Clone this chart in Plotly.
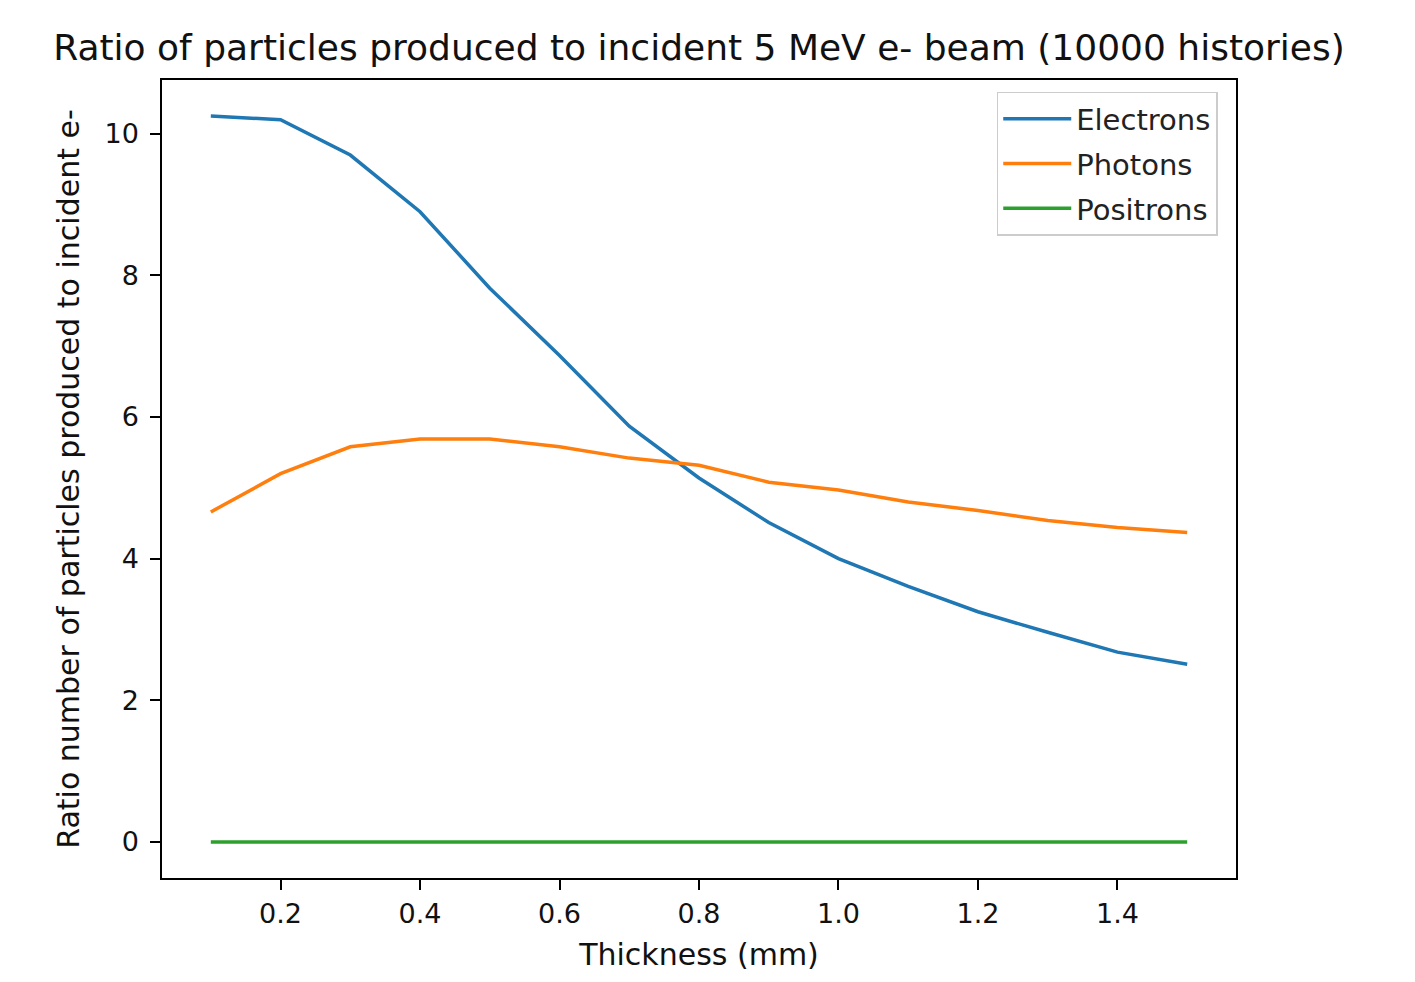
import plotly.graph_objects as go

# Target thickness (mm)
thickness = [0.1, 0.2, 0.3, 0.4, 0.5, 0.6, 0.7, 0.8, 0.9, 1.0, 1.1, 1.2, 1.3, 1.4, 1.5]

# Particles produced per incident electron
electrons = [10.25, 10.20, 9.70, 8.90, 7.82, 6.87, 5.87, 5.14, 4.51, 4.00, 3.61, 3.25, 2.96, 2.68, 2.51]
photons = [4.66, 5.20, 5.58, 5.69, 5.69, 5.58, 5.42, 5.32, 5.08, 4.97, 4.80, 4.68, 4.54, 4.44, 4.37]
positrons = [0.0] * 15

series = [
    ("Electrons", electrons, "#1f77b4"),
    ("Photons", photons, "#ff7f0e"),
    ("Positrons", positrons, "#2ca02c"),
]

FONT = "DejaVu Sans"

fig = go.Figure()
for name, vals, color in series:
    fig.add_trace(go.Scatter(
        x=thickness, y=vals, name=name, mode="lines", legendgroup=name,
        line=dict(color=color, width=3.5),
    ))

axis_common = dict(
    showgrid=False, zeroline=False,
    showline=True, linecolor="black", linewidth=1.5, mirror=True,
    ticks="outside", ticklen=10, tickwidth=1.5, tickcolor="black",
    tickfont=dict(family=FONT, size=27, color="#111111"),
)

fig.update_layout(
    width=1415, height=982,
    margin=dict(l=162, r=179, t=80, b=104),
    paper_bgcolor="white", plot_bgcolor="white",
    font=dict(family=FONT, color="#111111"),
    title=dict(
        text="Ratio of particles produced to incident 5 MeV e- beam (10000 histories)",
        font=dict(family=FONT, size=36, color="#111111"),
        x=0.5, xref="paper", xanchor="center",
        y=1 - 47 / 982, yref="container", yanchor="middle",
    ),
    xaxis=dict(
        range=[0.03, 1.57],
        tickvals=[0.2, 0.4, 0.6, 0.8, 1.0, 1.2, 1.4],
        ticktext=["0.2", "0.4", "0.6", "0.8", "1.0", "1.2", "1.4"],
        ticklabelstandoff=1,
        title=dict(text="Thickness (mm)", font=dict(family=FONT, size=30), standoff=16),
        **axis_common,
    ),
    yaxis=dict(
        range=[-0.51, 10.76],
        tickvals=[0, 2, 4, 6, 8, 10],
        ticklabelstandoff=6,
        title=dict(text="Ratio number of particles produced to incident e-",
                   font=dict(family=FONT, size=30), standoff=16),
        **axis_common,
    ),
    legend=dict(
        x=0.983, y=0.985, xanchor="right", yanchor="top",
        bgcolor="white", bordercolor="#cccccc", borderwidth=1.5,
        font=dict(family=FONT, size=29, color="#222222"),
        itemwidth=68, tracegroupgap=4,
    ),
    showlegend=True,
)

fig.write_html("out.html")
